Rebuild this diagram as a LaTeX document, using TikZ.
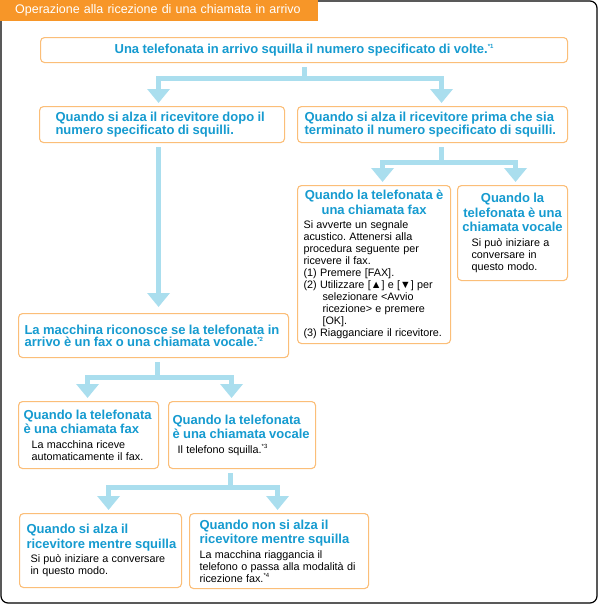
\documentclass[tikz,border=0pt]{standalone}
\usepackage{fontspec}
\setmainfont{Liberation Sans}
\usepackage{xcolor}
\definecolor{rxtab}{HTML}{F79628}
\definecolor{rxedge}{HTML}{FBBE78}
\definecolor{rxblue}{HTML}{169BD0}
\definecolor{rxflow}{HTML}{AADEEE}
\usetikzlibrary{arrows.meta}
\frenchspacing
\newcommand{\hd}{\fontsize{13}{14.5}\selectfont\bfseries\color{rxblue}}
\newcommand{\bd}{\fontsize{10.8}{12}\selectfont\color{black}}
\newcommand{\nota}[1]{\raisebox{4.5pt}{\fontsize{6}{6}\selectfont*#1}}

\begin{document}
\begin{tikzpicture}[x=1pt,y=-1pt,
 box/.style={draw=rxedge,fill=white,line width=1.1pt,rounded corners=4pt,%
   anchor=north west,align=left,inner ysep=2pt},
 arr/.style={-{Triangle[width=22pt,length=14pt]},draw=rxflow,line width=5pt,%
   shorten <=4pt,shorten >=3pt}]
\useasboundingbox (0,0) rectangle (599,605);
\draw[line width=1.2pt,rounded corners=7pt] (1,1) rectangle (597,603);
\node[fill=rxtab,text=white,anchor=north west,minimum width=318pt,%
  minimum height=21pt,inner xsep=15pt,text width=288pt,align=left,%
  font=\fontsize{12.5}{14}\selectfont] (tab) at (0,0)
  {Operazione alla ricezione di una chiamata in arrivo};
\node[box,align=center,minimum width=527pt,minimum height=25pt,%
  inner xsep=5pt,text width=517pt] (ring) at (40,37)
  {\hd Una telefonata in arrivo squilla il numero specificato di volte.\nota{1}};
\node[box,minimum width=245pt,minimum height=36pt,inner xsep=16pt,%
  text width=213pt] (late) at (39,106)
  {\hd Quando si alza il ricevitore dopo il\\numero specificato di squilli.};
\node[box,minimum width=270pt,minimum height=36pt,inner xsep=7pt,%
  text width=256pt] (early) at (297,106)
  {\hd Quando si alza il ricevitore prima che sia\\terminato il numero specificato di squilli.};
\node[box,minimum width=270pt,minimum height=44pt,inner xsep=6pt,%
  text width=258pt] (detect) at (18,313)
  {\hd La macchina riconosce se la telefonata in\\arrivo è un fax o una chiamata vocale.\nota{2}};
\node[box,minimum width=153pt,minimum height=158pt,inner xsep=6pt,%
  text width=141pt] (efax) at (297,185)
  {{\hd\centering Quando la telefonata è\\una chiamata fax\par}\vspace{2.5pt}%
  {\bd Si avverte un segnale\\acustico. Attenersi alla\\procedura seguente per\\%
  ricevere il fax.\\(1) Premere [FAX].\\(2) Utilizzare [▲] e [▼] per\\%
  \hspace*{19pt}selezionare <Avvio\\\hspace*{19pt}ricezione> e premere\\%
  \hspace*{19pt}[OK].\\(3) Riagganciare il ricevitore.\par}};
\node[box,minimum width=110pt,minimum height=95pt,inner xsep=4pt,%
  text width=102pt] (evoice) at (457,185)
  {{\hd\centering Quando la\\telefonata è una\\chiamata vocale\par}\vspace{2.5pt}%
  {\bd\leftskip=10pt Si può iniziare a\\conversare in\\questo modo.\par}};
\node[box,minimum width=140pt,minimum height=67pt,inner xsep=5pt,%
  text width=130pt] (fax) at (18,401)
  {{\hd Quando la telefonata\\è una chiamata fax\par}\vspace{2.5pt}%
  {\bd\leftskip=8pt La macchina riceve\\automaticamente il fax.\par}};
\node[box,minimum width=147pt,minimum height=67pt,inner xsep=4pt,%
  text width=139pt] (voice) at (168,401)
  {{\hd Quando la telefonata\\è una chiamata vocale\par}\vspace{2.5pt}%
  {\bd\leftskip=5pt Il telefono squilla.\nota{3}\par}};
\node[box,minimum width=162pt,minimum height=74pt,inner xsep=5pt,%
  text width=152pt] (pick) at (19,513)
  {{\hd\leftskip=2pt Quando si alza il\\ricevitore mentre squilla\par}\vspace{2.5pt}%
  {\bd\leftskip=6pt Si può iniziare a conversare\\in questo modo.\par}};
\node[box,minimum width=179pt,minimum height=75pt,inner xsep=10pt,%
  text width=159pt] (nopick) at (189,513)
  {{\hd Quando non si alza il\\ricevitore mentre squilla\par}\vspace{2.5pt}%
  {\bd La macchina riaggancia il\\telefono o passa alla modalità di\\%
  ricezione fax.\nota{4}\par}};
\draw[arr] (ring.south) -- ++(0,15.5) -| ([xshift=-3.5pt]late.north);%
\draw[arr] (ring.south) -- ++(0,15.5) -| ([xshift=9pt]early.north);%
\draw[arr,shorten >=6pt] ([xshift=-3.5pt]late.south) -- ([xshift=5pt]detect.north);%
\draw[arr] ([xshift=9pt]early.south) -- ++(0,19.5) -| ([xshift=8.5pt]efax.north);%
\draw[arr] ([xshift=9pt]early.south) -- ++(0,19.5) -| ([xshift=3pt]evoice.north);%
\draw[arr] ([xshift=4pt]detect.south) -- ++(0,19.5) -| ([xshift=-1pt]fax.north);%
\draw[arr] ([xshift=4pt]detect.south) -- ++(0,19.5) -| ([xshift=-10.5pt]voice.north);%
\draw[arr] ([xshift=-11.5pt]voice.south) -- ++(0,18.5) -| ([xshift=8pt]pick.north);%
\draw[arr] ([xshift=-11.5pt]voice.south) -- ++(0,18.5) -| ([xshift=-1.5pt]nopick.north);
\end{tikzpicture}
\end{document}
